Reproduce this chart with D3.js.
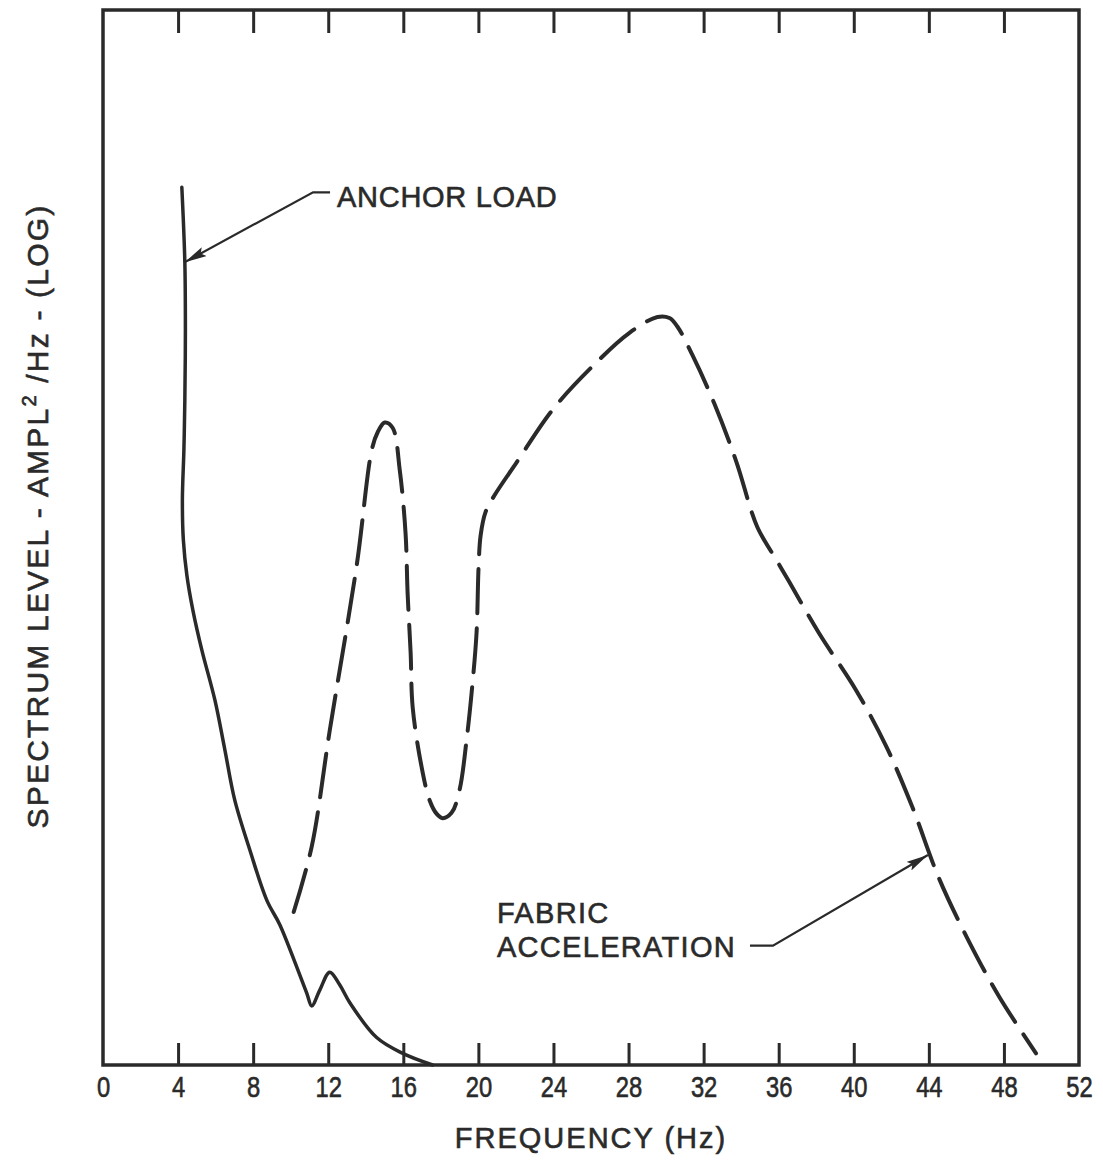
<!DOCTYPE html>
<html>
<head>
<meta charset="utf-8">
<script src="https://cdn.jsdelivr.net/npm/d3@7"></script>
<style>
  html, body { margin: 0; padding: 0; background: #ffffff; }
  svg { display: block; }
  text { font-family: "Liberation Sans", Arial, sans-serif; fill: #2a2a2a; stroke: #2a2a2a; stroke-width: 0.6px; }
</style>
</head>
<body>
<svg id="chart" width="1103" height="1162"></svg>
<script>
// Anchor load spectrum (solid) — frequency in Hz, relative level in log units
const anchorHz    = [4.20, 4.36, 4.39, 4.36, 4.31, 4.23, 4.28, 4.47, 4.79, 5.27, 5.96, 6.49, 7.02, 7.82, 8.73, 9.42, 10.32, 10.86, 11.12, 11.55, 12.08, 12.61, 13.15, 14.58, 15.97, 17.56];
const anchorLevel = [8.32, 7.61, 6.97, 6.30, 5.83, 5.36, 4.98, 4.64, 4.31, 3.93, 3.46, 2.99, 2.51, 2.04, 1.56, 1.33, 0.93, 0.68, 0.56, 0.71, 0.88, 0.76, 0.59, 0.26, 0.11, 0.00];

// Fabric acceleration spectrum (dashed)
const fabricHz    = [10.16, 11.12, 12.08, 13.52, 14.32, 14.64, 15.01, 15.43, 15.81, 16.12, 16.23, 16.39, 16.50, 16.98, 17.40, 17.78, 18.09, 18.57, 19.00, 19.37, 19.64, 19.90, 20.01, 20.12, 20.38, 20.86, 22.03, 23.95, 26.18, 28.05, 29.54, 30.18, 30.60, 31.40, 32.57, 33.74, 34.86, 35.87, 36.56, 38.16, 40.13, 41.73, 43.11, 44.54, 46.14, 47.74, 49.71];
const fabricLevel = [1.45, 2.07, 3.17, 4.74, 5.83, 6.00, 6.09, 6.04, 5.64, 5.04, 4.47, 3.91, 3.39, 2.82, 2.51, 2.38, 2.34, 2.39, 2.61, 3.08, 3.53, 4.09, 4.72, 5.02, 5.24, 5.40, 5.71, 6.21, 6.64, 6.94, 7.09, 7.08, 7.00, 6.73, 6.27, 5.72, 5.10, 4.79, 4.58, 4.09, 3.55, 3.02, 2.45, 1.77, 1.17, 0.65, 0.11];

// Axis ticks
const freqTicks = [0, 4, 8, 12, 16, 20, 24, 28, 32, 36, 40, 44, 48, 52];
const frameTicks = [4, 8, 12, 16, 20, 24, 28, 32, 36, 40, 44, 48];

// Callouts: arrow tip on the curve, label position
const anchorCallout = { tipHz: 4.36, tipLevel: 7.61, textHz: 12.47, textLevel: 8.13, lines: ["ANCHOR LOAD"], spacing: 0.7 };
const fabricCallout = { tipHz: 43.95, tipLevel: 1.99, textHz: 20.99, textLevel: 1.35, lines: ["FABRIC", "ACCELERATION"], spacing: 1.3 };

const INK = "#2a2a2a";
const svg = d3.select("#chart");
const plotLeft = 103, plotRight = 1079, plotTop = 10, plotBottom = 1065;

const x = d3.scaleLinear().domain([0, 52]).range([plotLeft, plotRight]);
const y = d3.scaleLinear().domain([0, 10]).range([plotBottom, plotTop]);

// arrowhead marker
svg.append("defs").append("marker")
  .attr("id", "arrow")
  .attr("markerUnits", "userSpaceOnUse")
  .attr("markerWidth", 22).attr("markerHeight", 10)
  .attr("refX", 22).attr("refY", 5)
  .attr("orient", "auto")
  .append("path")
  .attr("d", "M0,0 L22,5 L0,10 L4,5 Z")
  .attr("fill", INK);

// bottom axis with inward ticks and labels
const xAxis = d3.axisBottom(x)
  .tickValues(freqTicks)
  .tickFormat(d3.format("d"))
  .tickSizeInner(-22).tickSizeOuter(0).tickPadding(11);
const gx = svg.append("g").attr("transform", `translate(0,${plotBottom})`).call(xAxis);
gx.select(".domain").remove();
gx.selectAll(".tick line")
  .attr("stroke", INK).attr("stroke-width", 3)
  .filter(d => d === 0 || d === 52).remove();
gx.selectAll(".tick text")
  .attr("fill", INK)
  .style("font-size", "29px")
  .attr("transform", "scale(0.82,1)");

// top axis: ticks only
const xTop = d3.axisTop(x).tickValues(frameTicks).tickFormat("").tickSizeInner(-23).tickSizeOuter(0);
const gt = svg.append("g").attr("transform", `translate(0,${plotTop})`).call(xTop);
gt.select(".domain").remove();
gt.selectAll(".tick line").attr("stroke", INK).attr("stroke-width", 3);

// frame
svg.append("rect")
  .attr("x", x(0)).attr("y", y(10))
  .attr("width", x(52) - x(0)).attr("height", y(0) - y(10))
  .attr("fill", "none").attr("stroke", INK).attr("stroke-width", 3.5);

// curves
const line = d3.line()
  .x(d => x(d[0])).y(d => y(d[1]))
  .curve(d3.curveCatmullRom.alpha(0.5));

svg.append("path")
  .datum(d3.zip(anchorHz, anchorLevel))
  .attr("d", line)
  .attr("fill", "none").attr("stroke", INK)
  .attr("stroke-width", 3.5).attr("stroke-linecap", "round").attr("stroke-linejoin", "round");

svg.append("path")
  .datum(d3.zip(fabricHz, fabricLevel))
  .attr("d", line)
  .attr("fill", "none").attr("stroke", INK)
  .attr("stroke-width", 4).attr("stroke-linecap", "round")
  .attr("stroke-dasharray", "44,15");

// callouts
function callout(c, elbow) {
  const tx = x(c.textHz), ty = y(c.textLevel);
  const g = svg.append("g");
  c.lines.forEach((t, i) => {
    g.append("text").attr("x", tx).attr("y", ty + i * 34)
      .style("font-size", "29px").style("letter-spacing", c.spacing + "px").text(t);
  });
  const pts = elbow(tx, ty);
  g.append("path")
    .attr("d", d3.line()([...pts, [x(c.tipHz), y(c.tipLevel)]]))
    .attr("fill", "none").attr("stroke", INK).attr("stroke-width", 2.2)
    .attr("marker-end", "url(#arrow)");
}
callout(anchorCallout, (tx, ty) => [[tx - 7, ty - 15], [tx - 24, ty - 15]]);
callout(fabricCallout, (tx, ty) => [[tx + 253, ty + 23], [tx + 276, ty + 23]]);

// axis titles
svg.append("text")
  .attr("x", (x(0) + x(52)) / 2).attr("y", 1148)
  .attr("text-anchor", "middle")
  .style("font-size", "29px").style("letter-spacing", "2px")
  .text("FREQUENCY (Hz)");

const yt = svg.append("text")
  .attr("transform", "translate(48,516) rotate(-90)")
  .attr("text-anchor", "middle")
  .style("font-size", "30px").style("letter-spacing", "2.2px");
yt.append("tspan").text("SPECTRUM LEVEL - AMPL");
yt.append("tspan").attr("dy", -12).style("font-size", "20px").text("2");
yt.append("tspan").attr("dy", 12).text(" /Hz - (LOG)");
</script>
</body>
</html>
